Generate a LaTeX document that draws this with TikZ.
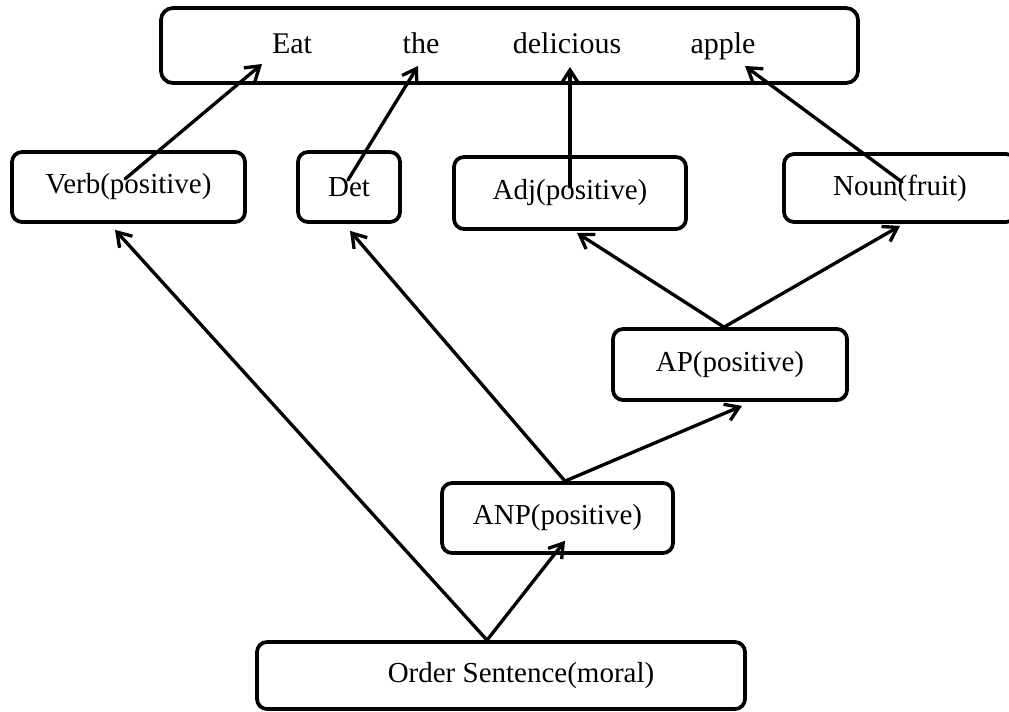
\documentclass[tikz,border=0pt]{standalone}
\usepackage{fontspec}
\setmainfont{Liberation Serif}
\usetikzlibrary{arrows.meta}
\begin{document}
\begin{tikzpicture}[x=0.75pt,y=-0.75pt,
  box/.style={draw, line width=2.8pt, rounded corners=7.5pt, inner sep=0pt,
    font=\fontsize{21.75}{26}\selectfont},
  bigbox/.style={box, rounded corners=9pt},
  word/.style={inner sep=0pt, anchor=base, font=\fontsize{22.5}{27}\selectfont},
  lbl/.style={inner sep=0pt, font=\fontsize{21.75}{26}\selectfont},
  arr/.style={-{Straight Barb[length=10pt,width=13pt,line width=2.5pt]},
    line width=2.5pt, line cap=round}]
\useasboundingbox (0,0) rectangle (1009,711);
% boxes
\node[bigbox, minimum width=522.75pt, minimum height=56.25pt] (sent) at (509.5,45.5) {};
\node[word] (eat) at (292,53) {Eat};
\node[word] (the) at (421,53) {the};
\node[word] (del) at (567,53) {delicious};
\node[word] (apple) at (723,53) {apple};
\node[box, minimum width=174.75pt, minimum height=52.5pt] (verb) at (128.5,187) {Verb(positive)};
\node[box, minimum width=76.5pt, minimum height=52.5pt] (det) at (349,187) {Det};
\node[box, minimum width=174pt, minimum height=54pt] (adj) at (570,193) {Adj(positive)};
\node[box, minimum width=174pt, minimum height=51pt] (noun) at (900,188) {Noun(fruit)};
\node[box, minimum width=175.5pt, minimum height=53.25pt] (ap) at (730,364.5) {AP(positive)};
\node[box, minimum width=173.25pt, minimum height=52.5pt] (anp) at (557.5,518) {ANP(positive)};
\node[box, minimum width=366pt, minimum height=50.25pt] (order) at (501,675.5) {};
\node[lbl] (ordertext) at (521,675.5) {Order Sentence(moral)};
% tips inside the sentence box
\coordinate (eatTip) at (262,64);
\coordinate (theTip) at (418,66);
\coordinate (delTip) at (570,67);
\coordinate (appleTip) at (745,66);
% connectors
\draw[arr] ([shift={(-3.5,-8)}]verb.center) -- (eatTip);
\draw[arr] ([shift={(-1,-7)}]det.center) -- (theTip);
\draw[arr] ([shift={(0,-6)}]adj.center) -- (delTip);
\draw[arr] ([shift={(2,-6)}]noun.center) -- (appleTip);
\draw[arr] ([xshift=-4.5pt]ap.north) -- ([shift={(7,2)}]adj.south);
\draw[arr] ([xshift=-4.5pt]ap.north) -- ([shift={(0,2)}]noun.south);
\draw[arr] ([xshift=5.6pt]anp.north) -- ([shift={(1,7)}]det.south);
\draw[arr] ([xshift=5.6pt]anp.north) -- ([shift={(12,4)}]ap.south);
\draw[arr] ([xshift=-10.5pt]order.north) -- ([shift={(-13.5,6)}]verb.south);
\draw[arr] ([xshift=-10.5pt]order.north) -- ([shift={(7.5,-14)}]anp.south);
\end{tikzpicture}
\end{document}
